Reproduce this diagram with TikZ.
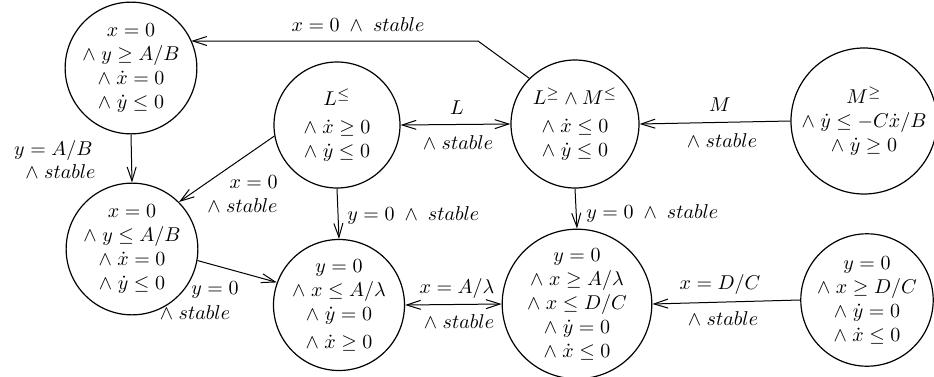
\documentclass[tikz,border=0pt]{standalone}
\usetikzlibrary{arrows.meta}
\newcommand{\Wg}{\wedge\;}
\begin{document}
\begin{tikzpicture}[x=0.5pt,y=-0.5pt,
  st/.style={draw, circle, line width=0.6pt, inner sep=0pt, align=center, font=\fontsize{10}{12}\selectfont},
  lbl/.style={inner sep=0pt, font=\fontsize{10}{12}\selectfont},
  tipb/.tip={Straight Barb[length=7pt,width=4.5pt]},
  edge/.style={line width=0.5pt, -tipb},
  bedge/.style={line width=0.5pt, tipb-tipb}]
\useasboundingbox (0,0) rectangle (934,376);

% states
\node[st, minimum size=64pt] (c1) at (131,68) {$x = 0$\\ $\Wg y \geq A/B$\\ $\Wg \dot x = 0$\\ $\Wg \dot y \leq 0$};
\node[st, minimum size=63pt] (c2) at (337,125) {$L^{\leq}$\\[2pt] $\Wg \dot x \geq 0$\\ $\Wg \dot y \leq 0$};
\node[st, minimum size=64pt] (c3) at (575,124) {$L^{\geq} \wedge M^{\leq}$\\[2pt] $\Wg \dot x \leq 0$\\ $\Wg \dot y \leq 0$};
\node[st, minimum size=73pt] (c4) at (864,121) {$M^{\geq}$\\ $\Wg \dot y \leq -C\dot x/B$\\ $\Wg \dot y \geq 0$};
\node[st, minimum size=64pt] (c5) at (132,249) {$x = 0$\\ $\Wg y \leq A/B$\\ $\Wg \dot x = 0$\\ $\Wg \dot y \leq 0$};
\node[st, minimum size=65pt] (c6) at (339,305) {$y = 0$\\ $\Wg x \leq A/\lambda$\\ $\Wg \dot y = 0$\\[2pt] $\Wg \dot x \geq 0$};
\node[st, minimum size=68pt] (c7) at (577,304) {$y = 0$\\ $\Wg x \geq A/\lambda$\\ $\Wg x \leq D/C$\\ $\Wg \dot y = 0$\\ $\Wg \dot x \leq 0$};
\node[st, minimum size=64pt] (c8) at (867,300) {$y = 0$\\ $\Wg x \geq D/C$\\ $\Wg \dot y = 0$\\ $\Wg \dot x \leq 0$};

% connectors
\coordinate (bend) at (478,41);
\draw[edge] (c3.135) -- (bend) -- (c1.25 |- bend);
\draw[bedge] (c2.east) -- (c3.west);
\draw[edge] (c4.west) -- (c3.east);
\draw[edge] (c1.south) -- (c5.north);
\draw[edge] (c2.190) -- (c5.45);
\draw[edge] (c2.south) -- (c6.north);
\draw[edge] (c3.south) -- (c7.north);
\draw[edge] (c5.-10) -- (c6.160);
\draw[bedge] (c6.east) -- (c7.west);
\draw[edge] (c8.west) -- (c7.east);

% labels
\node[lbl] (l1) at (358,25) {$x = 0 \;\wedge\; stable$};
\node[lbl] (l2a) at (457,108) {$L$};
\node[lbl] (l2b) at (458,143) {$\wedge\; stable$};
\node[lbl] (l3a) at (720,105) {$M$};
\node[lbl] (l3b) at (722,141) {$\wedge\; stable$};
\node[lbl, anchor=east] (l4a) at (93,150) {$y = A/B$};
\node[lbl, anchor=east] (l4b) at (96,172) {$\wedge\; stable$};
\node[lbl, anchor=east] (l5a) at (278,182) {$x = 0$};
\node[lbl, anchor=east] (l5b) at (278,206) {$\wedge\; stable$};
\node[lbl, anchor=west] (l6) at (347,215) {$y = 0 \;\wedge\; stable$};
\node[lbl, anchor=west] (l7) at (586,213) {$y = 0 \;\wedge\; stable$};
\node[lbl] (l8a) at (215,290) {$y = 0$};
\node[lbl] (l8b) at (195,313) {$\wedge\; stable$};
\node[lbl] (l9a) at (457,288) {$x = A/\lambda$};
\node[lbl] (l9b) at (459,322) {$\wedge\; stable$};
\node[lbl] (l10a) at (720,284) {$x = D/C$};
\node[lbl] (l10b) at (723,319) {$\wedge\; stable$};
\end{tikzpicture}
\end{document}
